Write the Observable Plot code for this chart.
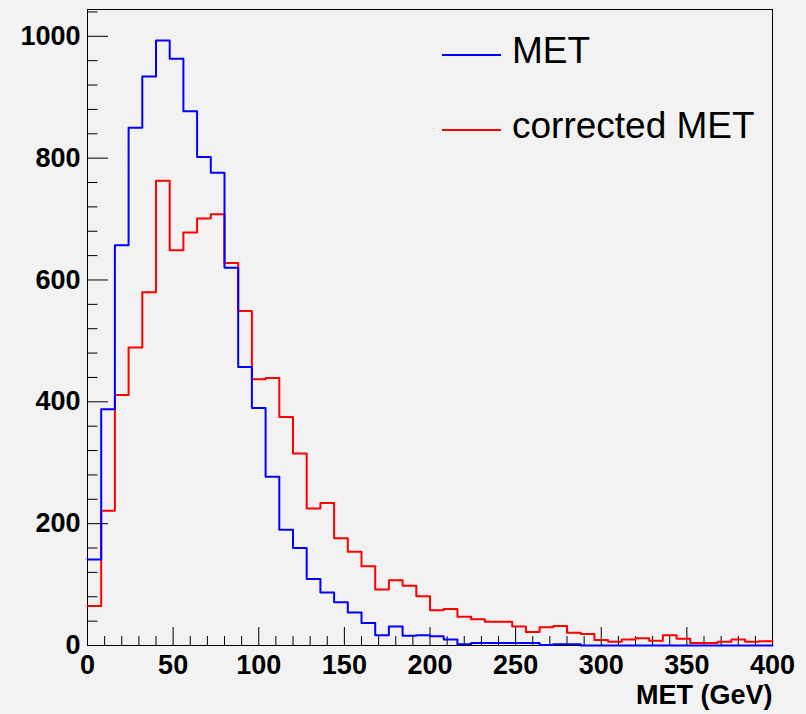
<!DOCTYPE html>
<html>
<head>
<meta charset="utf-8">
<script src="https://cdn.jsdelivr.net/npm/d3@7"></script>
<script src="https://cdn.jsdelivr.net/npm/@observablehq/plot@0.6"></script>
<style>
html, body { margin: 0; padding: 0; background: #f2f2f2; }
#wrap { position: relative; width: 806px; height: 714px; overflow: hidden; }
.leg-line { position: absolute; height: 2px; }
.leg-text { position: absolute; font-family: "Liberation Sans", Arial, Helvetica, sans-serif; font-size: 37px; line-height: 36px; color: #000; white-space: nowrap; }
</style>
</head>
<body>
<div id="wrap"></div>
<script>
// ---- data ----
const binWidth = 8;
const xMin = 0, xMax = 400;
const yMax = 1044;
const seriesNames = ["MET", "corrected MET"];
const seriesColors = ["#0000ff", "#ff0000"];
const metValues = [141, 388, 657, 850, 934, 993, 963, 877, 802, 776,
                   620, 457, 390, 277, 190, 160, 109, 87, 71, 54,
                   37, 17, 31, 16, 17, 15, 10, 2, 4, 4,
                   4, 4, 4, 1, 2, 2, 0, 0, 0, 0,
                   0, 0, 0, 0, 0, 0, 0, 0, 0, 0];
const correctedValues = [65, 221, 411, 489, 580, 763, 649, 678, 701, 708,
                         628, 549, 437, 439, 375, 315, 225, 234, 176, 154,
                         130, 92, 107, 98, 81, 58, 60, 47, 43, 39,
                         39, 31, 22, 30, 32, 21, 19, 9, 6, 10,
                         12, 8, 17, 11, 4, 4, 6, 10, 6, 7];
const xTicksMajor = [0, 50, 100, 150, 200, 250, 300, 350, 400];
const xTicksMinor = d3.range(10, 400, 10).filter(v => v % 50 !== 0);
const yTicksMajor = [0, 200, 400, 600, 800, 1000];
const yTicksMinor = d3.range(40, 1044, 40).filter(v => v % 200 !== 0);
const xTitle = "MET (GeV)";

// ---- layout ----
const W = 806, H = 714;
const mL = 87, mR = 34, mT = 9, mB = 69;
const innerW = W - mL - mR, innerH = H - mT - mB;
// tick lengths in pixels, converted to data units
const xMajLen = 18 * yMax / innerH, xMinLen = 9 * yMax / innerH;
const yMajLen = 21 * (xMax - xMin) / innerW, yMinLen = 10.5 * (xMax - xMin) / innerW;

function histPoints(values, name) {
  const pts = values.map((v, i) => ({x: xMin + i * binWidth, y: v, s: name}));
  pts.push({x: xMin + values.length * binWidth, y: values[values.length - 1], s: name});
  return pts;
}
const metPts = histPoints(metValues, seriesNames[0]);
const corPts = histPoints(correctedValues, seriesNames[1]);

const font = '"Liberation Sans", Arial, Helvetica, sans-serif';

const chart = Plot.plot({
  width: W, height: H,
  marginLeft: mL, marginRight: mR, marginTop: mT, marginBottom: mB,
  style: {background: "#f2f2f2", fontFamily: font, color: "#000"},
  x: {domain: [xMin, xMax]},
  y: {domain: [0, yMax]},
  marks: [
    Plot.frame({stroke: "#000", strokeWidth: 1}),
    Plot.ruleX(xTicksMajor, {x: d => d, y1: 0, y2: xMajLen, stroke: "#000", strokeWidth: 1}),
    Plot.ruleX(xTicksMinor, {x: d => d, y1: 0, y2: xMinLen, stroke: "#000", strokeWidth: 1}),
    Plot.ruleY(yTicksMajor, {y: d => d, x1: 0, x2: yMajLen, stroke: "#000", strokeWidth: 1}),
    Plot.ruleY(yTicksMinor, {y: d => d, x1: 0, x2: yMinLen, stroke: "#000", strokeWidth: 1}),
    Plot.axisX({ticks: xTicksMajor, tickSize: 0, tickPadding: 9, fontSize: 27, fontWeight: "bold",
                tickFormat: d => String(d), label: null}),
    Plot.axisY({ticks: yTicksMajor, tickSize: 0, tickPadding: 7, fontSize: 27, fontWeight: "bold",
                tickFormat: d => String(d), label: null}),
    Plot.text([xTitle], {text: d => d, frameAnchor: "bottom-right", dy: 58, textAnchor: "end",
                         fontSize: 27, fontWeight: "bold", fill: "#000"}),
    Plot.line(corPts, {x: "x", y: "y", curve: "step-after", stroke: seriesColors[1], strokeWidth: 2}),
    Plot.line(metPts, {x: "x", y: "y", curve: "step-after", stroke: seriesColors[0], strokeWidth: 2})
  ]
});

const wrap = document.getElementById("wrap");
wrap.appendChild(chart);

// legend overlay (top right inside the frame)
const legendRows = [
  {name: seriesNames[0], color: seriesColors[0]},
  {name: seriesNames[1], color: seriesColors[1]}
];
legendRows.forEach((r, i) => {
  const line = document.createElement("div");
  line.className = "leg-line";
  line.style.left = "442px";
  line.style.top = (54 + 75 * i) + "px";
  line.style.width = "59px";
  line.style.background = r.color;
  wrap.appendChild(line);
  const t = document.createElement("div");
  t.className = "leg-text";
  t.style.left = "512px";
  t.style.top = (33.2 + 74.3 * i) + "px";
  t.textContent = r.name;
  wrap.appendChild(t);
});
</script>
</body>
</html>
